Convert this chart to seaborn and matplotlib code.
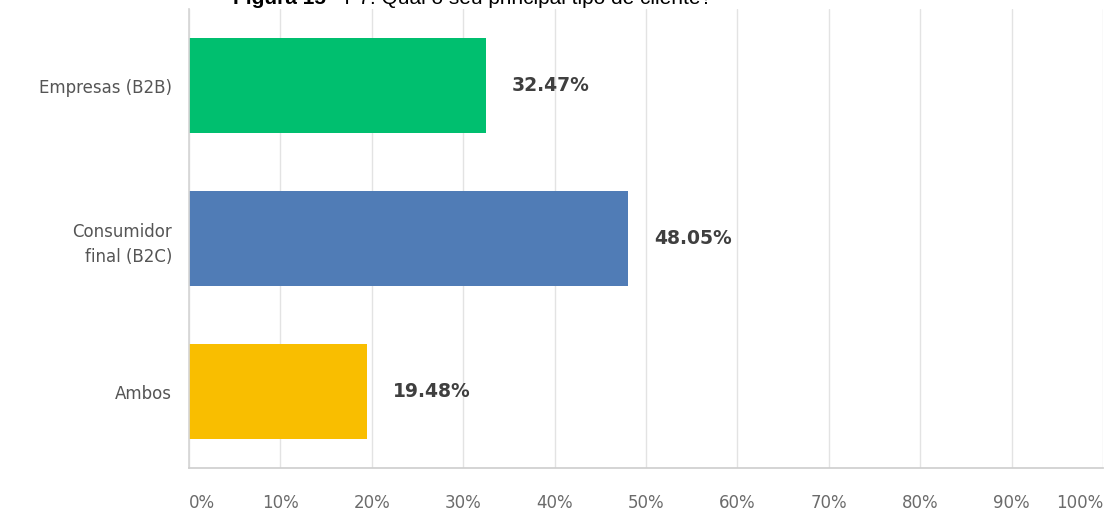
import matplotlib
matplotlib.use("Agg")
import matplotlib.pyplot as plt
import seaborn as sns
import pandas as pd

# Survey answers and their shares (%)
categories = ["Empresas (B2B)", "Consumidor\nfinal (B2C)", "Ambos"]
values = [32.47, 48.05, 19.48]
bar_colors = ["#00BF6F", "#507CB6", "#F9BE00"]
x_ticks = [0, 10, 20, 30, 40, 50, 60, 70, 80, 90, 100]
x_tick_labels = [f"{t}%" for t in x_ticks]
title_bold = "Figura 15"
title_rest = " - P7: Qual o seu principal tipo de cliente?"

sns.set_theme(style="white")
plt.rcParams["font.family"] = ["DejaVu Sans"]

df = pd.DataFrame({"categoria": categories, "valor": values})

W, H = 1109, 516
fig = plt.figure(figsize=(W / 100, H / 100), dpi=100)
ax = fig.add_axes([189 / W, (H - 468) / H, (1103 - 189) / W, (468 - 9) / H])

sns.barplot(data=df, x="valor", y="categoria", hue="categoria",
            palette=bar_colors, legend=False, width=0.62, ax=ax,
            saturation=1, edgecolor="none")

ax.set_xlim(0, 100)
ax.set_ylim(2.5, -0.5)
ax.set_xticks(x_ticks, x_tick_labels)
ax.set_yticks(range(len(categories)), categories, ha="right",
              multialignment="right", linespacing=1.55)
ax.set_xlabel("")
ax.set_ylabel("")
ax.grid(axis="x", color="#e3e3e3", linewidth=1)
ax.set_axisbelow(True)
for side in ["top", "right"]:
    ax.spines[side].set_visible(False)
ax.spines["left"].set_color("#d6d6d6")
ax.spines["bottom"].set_color("#cfcfcf")
ax.tick_params(axis="x", length=0, pad=18.5, labelsize=12, labelcolor="#6b6b6b")
ax.tick_params(axis="y", length=0, pad=12, labelsize=12, labelcolor="#555555")
xl = ax.get_xticklabels()
xl[0].set_horizontalalignment("left")
xl[-1].set_horizontalalignment("right")

# value labels next to each bar
for i, v in enumerate(values):
    ax.annotate(f"{v:.2f}%", xy=(v, i), xytext=(18.5, 0), textcoords="offset points",
                ha="left", va="center", fontsize=13.5, fontweight="bold",
                color="#3f3f3f")

# title with bold figure number, partly above the canvas
renderer = fig.canvas.get_renderer()
tfam = ["Liberation Sans", "DejaVu Sans"]
t1 = fig.text(233 / W, (H - 4) / H, title_bold, fontsize=15, fontweight="bold",
              family=tfam, va="baseline", color="#000000")
bb = t1.get_window_extent(renderer=renderer)
fig.text(bb.x1 / W, (H - 4) / H, title_rest, fontsize=15,
         family=tfam, va="baseline", color="#000000")

fig.savefig("out.png", dpi=100)
